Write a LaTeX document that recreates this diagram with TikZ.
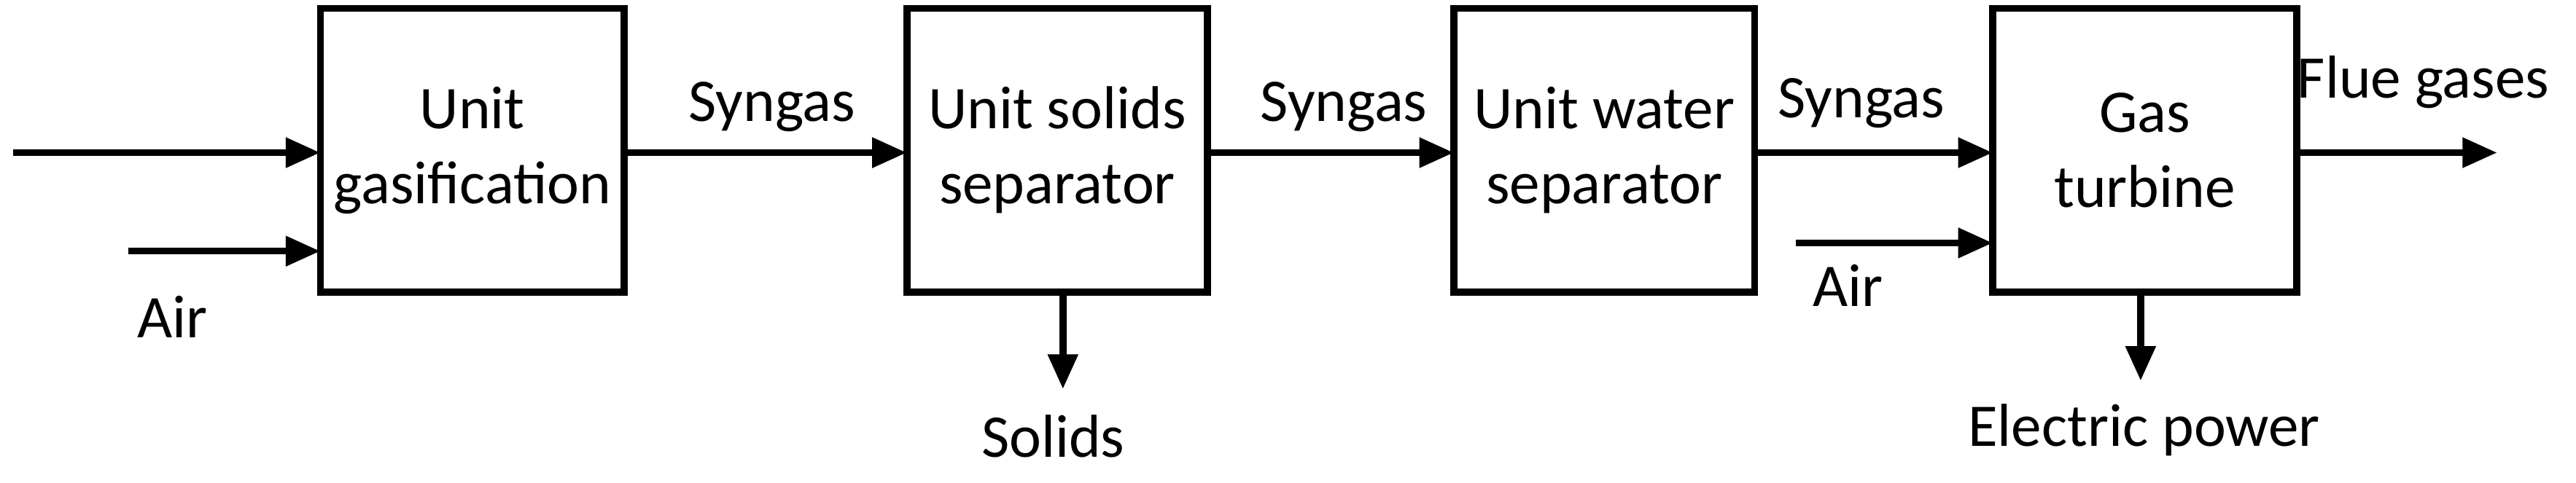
\documentclass[tikz,border=0pt]{standalone}
\usepackage{fontspec}
\setmainfont{Carlito}
\usetikzlibrary{arrows.meta}
\begin{document}
\begin{tikzpicture}[x=0.01cm,y=-0.01cm,
  box/.style={draw,line width=1.2pt,minimum width=185\pgflinewidth,align=center,font=\fontsize{10.5}{13}\selectfont},
  lbl/.style={font=\fontsize{10.5}{13}\selectfont,inner sep=0pt},
  arr/.style={line width=1.2pt,-{Triangle[length=6pt,width=5pt]}}]
\useasboundingbox (0,0) rectangle (1568,294);
\foreach \n/\a/\b/\t in {b1/195/380/{Unit\\gasification},b2/552/735/{Unit solids\\separator},b3/885/1068/{Unit water\\separator},b4/1213/1398/{Gas\\turbine}}{
  \draw[line width=1.2pt] (\a,5) rectangle (\b,178);
  \node[lbl,align=center] (\n) at ({(\a+\b)/2},91.5) {\t};
}
\coordinate (i1) at (8,93); \coordinate (e1) at (195,93);
\draw[arr] (i1) -- (e1);
\coordinate (i2) at (78,153); \coordinate (e2) at (195,153);
\draw[arr] (i2) -- (e2);
\node[lbl] (air1) at (105,193) {Air};
\coordinate (s1a) at (380,93); \coordinate (s1b) at (552,93);
\draw[arr] (s1a) -- (s1b);
\node[lbl] (sg1) at (470,65) {Syngas};
\coordinate (soa) at (647,178); \coordinate (sob) at (647,237);
\draw[arr] (soa) -- (sob);
\node[lbl] (sol) at (641,266) {Solids};
\coordinate (s2a) at (735,93); \coordinate (s2b) at (885,93);
\draw[arr] (s2a) -- (s2b);
\node[lbl] (sg2) at (818,65) {Syngas};
\coordinate (s3a) at (1068,93); \coordinate (s3b) at (1213,93);
\draw[arr] (s3a) -- (s3b);
\node[lbl] (sg3) at (1133,63) {Syngas};
\coordinate (a2a) at (1093,148); \coordinate (a2b) at (1213,148);
\draw[arr] (a2a) -- (a2b);
\node[lbl] (air2) at (1125,174) {Air};
\coordinate (epa) at (1303,178); \coordinate (epb) at (1303,232);
\draw[arr] (epa) -- (epb);
\node[lbl] (ep) at (1305,262) {Electric power};
\coordinate (fa) at (1398,93); \coordinate (fb) at (1520,93);
\draw[arr] (fa) -- (fb);
\node[lbl] (fg) at (1475,50) {Flue gases};
\end{tikzpicture}
\end{document}
